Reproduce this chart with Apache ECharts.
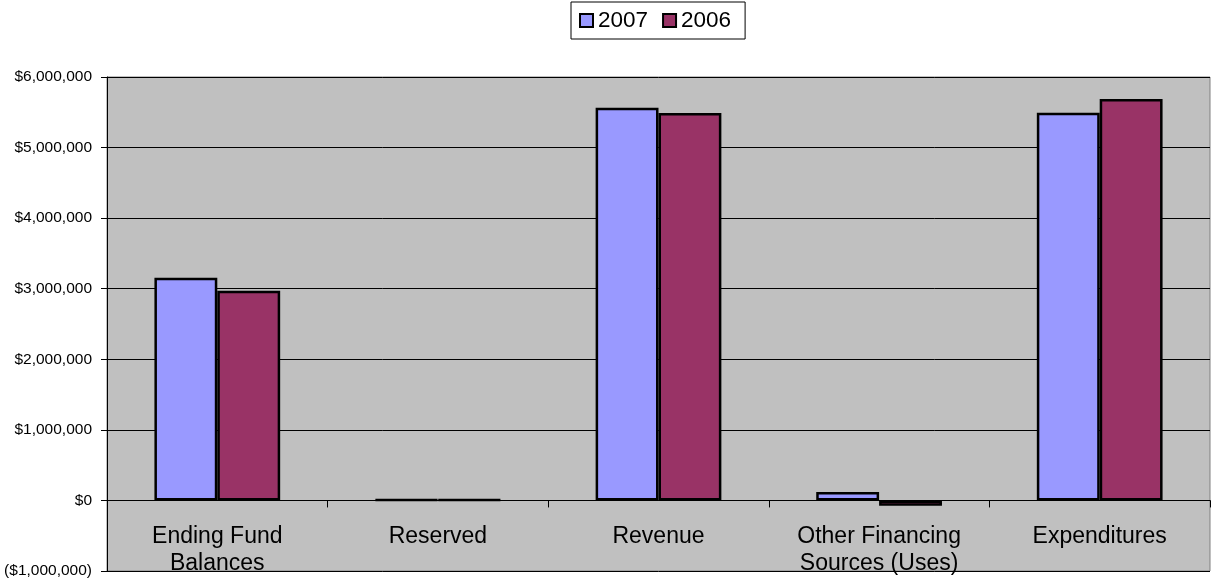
<!DOCTYPE html>
<html>
<head>
<meta charset="utf-8">
<script src="https://cdn.jsdelivr.net/npm/echarts@6/dist/echarts.min.js"></script>
<style>html,body{margin:0;padding:0;background:#fff}#c{width:1216px;height:581px}</style>
</head>
<body>
<div id="c"></div>
<script>
const categories = ['Ending Fund\nBalances', 'Reserved', 'Revenue', 'Other Financing\nSources (Uses)', 'Expenditures'];
const values2007 = [3155000, 10000, 5565000, 120000, 5495000];
const values2006 = [2970000, 10000, 5490000, -75000, 5690000];
const seriesNames = ['2007', '2006'];

const chart = echarts.init(document.getElementById('c'));
function fmt(v) {
  const s = '$' + Math.abs(v).toLocaleString('en-US');
  return v < 0 ? '(' + s + ')' : s;
}
chart.setOption({
  animation: false,
  backgroundColor: '#ffffff',
  textStyle: { fontFamily: 'Arial, "Liberation Sans", sans-serif' },
  legend: {
    top: 2, left: 571,
    data: seriesNames,
    borderColor: '#000', borderWidth: 1, padding: [7, 14, 7, 8],
    itemWidth: 13, itemHeight: 13, itemGap: 14,
    icon: 'rect',
    itemStyle: { borderColor: '#000', borderWidth: 2 },
    textStyle: { fontSize: 22.5, color: '#000' }
  },
  grid: {
    left: 107, right: 6, top: 77, bottom: 10,
    containLabel: false, outerBoundsMode: 'none',
    show: true, backgroundColor: '#C0C0C0', borderColor: '#808080', borderWidth: 1
  },
  xAxis: {
    type: 'category', data: categories,
    axisLine: { onZero: true, lineStyle: { color: '#000', width: 1 } },
    axisTick: { show: true, length: 7, lineStyle: { color: '#000' } },
    axisLabel: { interval: 0, fontSize: 23, color: '#000', lineHeight: 27, margin: -48 },
    splitLine: { show: false }
  },
  yAxis: {
    type: 'value', min: -1000000, max: 6000000, interval: 1000000,
    axisLine: { show: true, lineStyle: { color: '#000' } },
    axisTick: { show: true, length: 6, lineStyle: { color: '#000' } },
    axisLabel: { formatter: fmt, fontSize: 15.5, color: '#000', margin: 15 },
    splitLine: { show: true, lineStyle: { color: '#000', width: 1 } }
  },
  series: [
    { name: seriesNames[0], type: 'bar', data: values2007, barGap: '0%', barCategoryGap: '43%',
      itemStyle: { color: '#9999FF', borderColor: '#000', borderWidth: 2.5 } },
    { name: seriesNames[1], type: 'bar', data: values2006, barGap: '0%', barCategoryGap: '43%',
      itemStyle: { color: '#993366', borderColor: '#000', borderWidth: 2.5 } }
  ]
});
</script>
</body>
</html>
